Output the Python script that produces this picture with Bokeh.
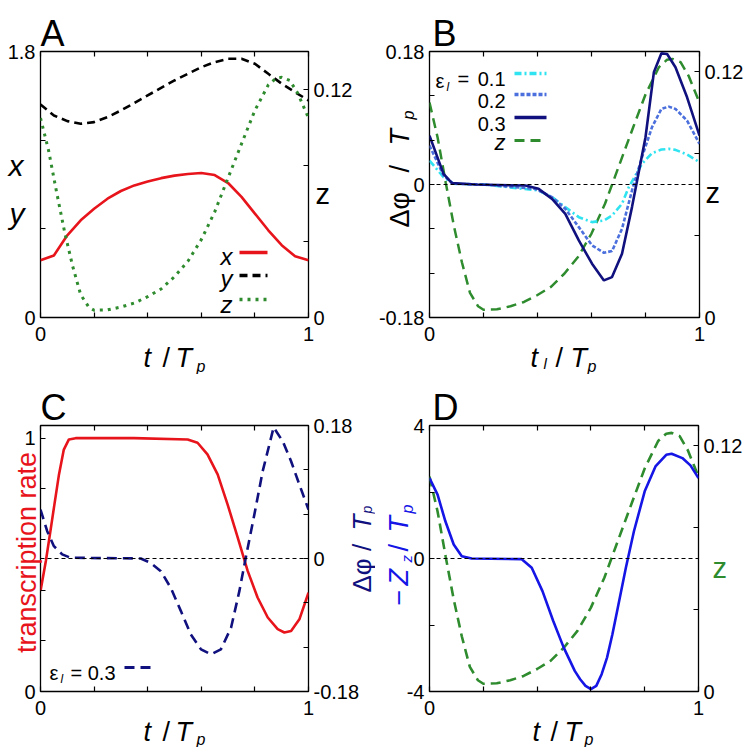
import math
from bokeh.plotting import figure
from bokeh.models import Range1d, LinearAxis, FixedTicker, Span
from bokeh.core.properties import value
from bokeh.layouts import row, column
from bokeh.embed import file_html
from bokeh.resources import INLINE

FONT = "Liberation Sans"
RED = "#e8141c"
GREEN = "#2e8b2e"
NAVY = "#10107e"
BLUE = "#1515e6"
CYAN = "#2fe3f0"
ROYAL = "#4b6fdc"

# ---------------- data ----------------
# Panel A: x, y (left axis) and z (right axis) over t / Tp
tA = [0, 0.05, 0.1, 0.15, 0.2, 0.25, 0.3, 0.35, 0.4, 0.45, 0.5, 0.55, 0.6, 0.65, 0.7, 0.75, 0.8, 0.85, 0.9, 0.95, 1.0]
xA = [0.387, 0.420, 0.556, 0.658, 0.736, 0.804, 0.856, 0.894, 0.921, 0.943, 0.960, 0.971, 0.978, 0.964, 0.910, 0.816, 0.703, 0.590, 0.489, 0.414, 0.387]
yA = [1.442, 1.367, 1.329, 1.311, 1.322, 1.356, 1.401, 1.451, 1.503, 1.554, 1.604, 1.649, 1.694, 1.728, 1.751, 1.751, 1.717, 1.649, 1.582, 1.525, 1.469]

# z (used in A, B, D)
tZ = [0, 0.03, 0.06, 0.09, 0.12, 0.15, 0.18, 0.2, 0.25, 0.3, 0.35, 0.4, 0.45, 0.5, 0.55, 0.6, 0.65, 0.7, 0.75, 0.8, 0.85, 0.88, 0.9, 0.93, 0.96, 1.0]
zV = [0.105, 0.088, 0.066, 0.045, 0.027, 0.012, 0.0055, 0.0038, 0.0040, 0.0055, 0.0076, 0.011, 0.015, 0.0215, 0.0296, 0.041, 0.0556, 0.0735, 0.0914, 0.109, 0.1224, 0.126, 0.1264, 0.1248, 0.118, 0.105]

# Panel B: phase shift for eps_l = 0.1, 0.2, 0.3
tB1 = [0, 0.052, 0.089, 0.2, 0.404, 0.454, 0.503, 0.553, 0.602, 0.646, 0.676, 0.713, 0.738, 0.787, 0.824, 0.859, 0.886, 0.911, 0.954, 1.0]
dB1 = [0.0324, 0.0099, 0.001, 0, -0.0081, -0.0171, -0.0306, -0.0442, -0.0509, -0.0487, -0.0419, -0.0261, -0.0036, 0.0279, 0.0424, 0.0473, 0.0482, 0.0469, 0.0405, 0.0302]
tB2 = [0, 0.052, 0.089, 0.2, 0.392, 0.454, 0.503, 0.553, 0.602, 0.646, 0.676, 0.713, 0.750, 0.787, 0.824, 0.859, 0.886, 0.911, 0.954, 1.0]
dB2 = [0.0527, 0.0122, 0.001, 0, -0.0059, -0.0171, -0.0329, -0.0577, -0.0824, -0.0924, -0.0901, -0.0600, -0.0081, 0.037, 0.0775, 0.1023, 0.1054, 0.1023, 0.0865, 0.055]
tB3 = [0, 0.052, 0.083, 0.169, 0.355, 0.404, 0.454, 0.503, 0.553, 0.602, 0.646, 0.676, 0.713, 0.750, 0.769, 0.800, 0.831, 0.859, 0.880, 0.911, 0.954, 1.0]
dB3 = [0.0662, 0.0144, 0.0018, 0, -0.0014, -0.0059, -0.0194, -0.0397, -0.0757, -0.1072, -0.1298, -0.1253, -0.0937, -0.0306, 0.0054, 0.064, 0.1518, 0.1775, 0.1766, 0.1586, 0.118, 0.0662]

# Panel C: transcription rate (left) and phase shift eps_l = 0.3 (right)
tC = [0, 0.02, 0.037, 0.05, 0.069, 0.087, 0.106, 0.131, 0.349, 0.549, 0.586, 0.623, 0.661, 0.698, 0.736, 0.773, 0.810, 0.848, 0.885, 0.910, 0.935, 0.966, 1.0]
rateC = [0.397, 0.515, 0.633, 0.725, 0.857, 0.955, 0.995, 1.0, 1.0, 0.995, 0.982, 0.936, 0.857, 0.739, 0.607, 0.476, 0.371, 0.292, 0.246, 0.233, 0.239, 0.285, 0.39]
tCd = [0, 0.025, 0.05, 0.081, 0.112, 0.374, 0.411, 0.449, 0.486, 0.524, 0.561, 0.599, 0.636, 0.673, 0.711, 0.742, 0.767, 0.798, 0.829, 0.870, 0.904, 0.935, 0.966, 1.0]
dC = [0.0662, 0.037, 0.0167, 0.0056, 0.001, 0, -0.0059, -0.0171, -0.0397, -0.0712, -0.1027, -0.123, -0.1298, -0.123, -0.0937, -0.0442, 0.0032, 0.0595, 0.118, 0.1775, 0.1586, 0.1316, 0.1, 0.0662]

# Panel D: -Z_z / Tp
tD = [0, 0.03, 0.059, 0.09, 0.12, 0.157, 0.343, 0.38, 0.42, 0.46, 0.499, 0.54, 0.56, 0.58, 0.6, 0.62, 0.64, 0.66, 0.68, 0.70, 0.73, 0.76, 0.80, 0.84, 0.88, 0.90, 0.94, 0.97, 1.0]
zzD = [2.42, 1.92, 1.12, 0.42, 0.07, 0, -0.02, -0.28, -0.98, -1.88, -2.68, -3.38, -3.63, -3.83, -3.93, -3.83, -3.48, -2.98, -2.28, -1.48, -0.28, 0.82, 2.02, 2.77, 3.12, 3.15, 3.02, 2.8, 2.42]

# ticks
xTicks = [0, 0.2, 0.4, 0.6, 0.8, 1.0]
xLabels = {0: "0", 1.0: "1"}

# ---------------- layout geometry (page pixels) ----------------
GEO = {
    "A": dict(fx=0, fy=0, fw=375, fh=374, left=40, top=51, w=268, h=266),
    "B": dict(fx=375, fy=0, fw=375, fh=374, left=429, top=51, w=270, h=266),
    "C": dict(fx=0, fy=374, fw=375, fh=373, left=40, top=425, w=268, h=266),
    "D": dict(fx=375, fy=374, fw=375, fh=373, left=429, top=425, w=269, h=266),
}


def to_data(g, yr, px, py):
    x = (px - g["left"]) / g["w"]
    y = yr[1] - (py - g["top"]) / g["h"] * (yr[1] - yr[0])
    return x, y


def mk_axis(ticks, labels, **kw):
    ov = {t: labels.get(t, "") for t in ticks}
    ax = LinearAxis(ticker=FixedTicker(ticks=ticks), major_label_overrides=ov, **kw)
    ax.axis_line_color = None
    ax.major_tick_line_color = "black"
    ax.major_tick_line_width = 1.2
    ax.major_tick_in = 5
    ax.major_tick_out = 0
    ax.minor_tick_line_color = None
    ax.major_label_text_font = FONT
    ax.major_label_text_font_size = "20px"
    ax.major_label_text_color = "black"
    ax.major_label_standoff = 5
    return ax


def make_fig(key, yr, yticks, ylabels, rname, rr, rticks, rlabels):
    g = GEO[key]
    p = figure(frame_width=g["w"], frame_height=g["h"],
               min_border_left=g["left"] - g["fx"],
               min_border_top=g["top"] - g["fy"],
               min_border_right=g["fx"] + g["fw"] - g["left"] - g["w"],
               min_border_bottom=g["fy"] + g["fh"] - g["top"] - g["h"],
               x_range=Range1d(0, 1), y_range=Range1d(*yr),
               x_axis_location=None, y_axis_location=None,
               output_backend="svg", toolbar_location=None)
    p.extra_y_ranges = {rname: Range1d(*rr)}
    p.xgrid.visible = False
    p.ygrid.visible = False
    p.outline_line_color = "black"
    p.outline_line_width = 1.3
    p.outline_line_alpha = 1.0
    p.background_fill_color = "white"
    p.border_fill_color = "white"
    bx = mk_axis(xTicks, xLabels)
    bx.major_label_standoff = 9
    p.add_layout(bx, "below")
    tx = mk_axis(xTicks, {})
    tx.major_label_text_font_size = "1px"
    tx.major_label_standoff = 0
    p.add_layout(tx, "above")
    p.add_layout(mk_axis(yticks, ylabels), "left")
    p.add_layout(mk_axis(rticks, rlabels, y_range_name=rname), "right")
    return p, g


def txt(p, g, yr, s, px, py, size, color="black", style="normal", align="left",
        baseline="alphabetic", angle=0.0):
    x, y = to_data(g, yr, px, py)
    p.text(x=[x], y=[y], text=[s], text_font=value(FONT),
           text_font_size=value(f"{size}px"), text_color=color,
           text_font_style=value(style), text_align=value(align),
           text_baseline=value(baseline), angle=angle, level="overlay")


def key_line(p, g, yr, px0, px1, py, **kw):
    x0, y = to_data(g, yr, px0, py)
    x1, _ = to_data(g, yr, px1, py)
    p.line([x0, x1], [y, y], **kw)


R90 = math.pi / 2

# ---------------- Panel A ----------------
yrA = (0, 1.8)
pA, gA = make_fig("A", yrA, [0, 0.6, 1.2, 1.8], {0: "0", 1.8: "1.8"},
                  "z", (0, 0.14), [0, 0.04, 0.08, 0.12], {0: "0", 0.12: "0.12"})
pA.line(tA, xA, line_color=RED, line_width=2.6)
pA.line(tA, yA, line_color="black", line_width=2.6, line_dash="8 5")
pA.line(tZ, zV, y_range_name="z", line_color=GREEN, line_width=3, line_dash="3 5")
txt(pA, gA, yrA, "A", 40, 33, 36)
txt(pA, gA, yrA, "x", 8, 165, 30, style="italic")
txt(pA, gA, yrA, "y", 9, 213, 30, style="italic")
txt(pA, gA, yrA, "z", 315, 193, 29)
txt(pA, gA, yrA, "t", 143, 357, 27, style="italic")
txt(pA, gA, yrA, "/", 162, 357, 27)
txt(pA, gA, yrA, "T", 175, 357, 27, style="italic")
txt(pA, gA, yrA, "p", 196, 366, 16, style="italic")
# legend
txt(pA, gA, yrA, "x", 232, 256, 24, style="italic", align="right")
txt(pA, gA, yrA, "y", 232, 278, 24, style="italic", align="right")
txt(pA, gA, yrA, "z", 232, 304, 24, style="italic", align="right")
key_line(pA, gA, yrA, 239, 267, 252, line_color=RED, line_width=3.5)
key_line(pA, gA, yrA, 239, 267, 275, line_color="black", line_width=3.5, line_dash="8 5")
key_line(pA, gA, yrA, 239, 267, 299, line_color=GREEN, line_width=3.5, line_dash="3 5")

# ---------------- Panel B ----------------
yrB = (-0.18, 0.18)
pB, gB = make_fig("B", yrB, [-0.18, -0.12, -0.06, 0, 0.06, 0.12, 0.18],
                  {-0.18: "-0.18", 0: "0", 0.18: "0.18"},
                  "z", (0, 0.13), [0, 0.04, 0.08, 0.12], {0: "0", 0.12: "0.12"})
pB.add_layout(Span(location=0, dimension="width", line_color="black", line_width=1, line_dash="4 3"))
pB.line(tZ, zV, y_range_name="z", line_color=GREEN, line_width=2.5, line_dash="10 6")
pB.line(tB1, dB1, line_color=CYAN, line_width=2.6, line_dash="7 3 2 3")
pB.line(tB2, dB2, line_color=ROYAL, line_width=2.6, line_dash="4 2")
pB.line(tB3, dB3, line_color=NAVY, line_width=2.6)
txt(pB, gB, yrB, "B", 432, 33, 36)
txt(pB, gB, yrB, "Δφ", 399, 227, 27, angle=R90)
txt(pB, gB, yrB, "/", 399, 172, 27, angle=R90)
txt(pB, gB, yrB, "T", 399, 145, 27, style="italic", angle=R90)
txt(pB, gB, yrB, "p", 408, 119, 16, style="italic", angle=R90)
txt(pB, gB, yrB, "z", 705, 192, 29)
txt(pB, gB, yrB, "t", 530, 357, 27, style="italic")
txt(pB, gB, yrB, "l", 543, 363, 15, style="italic")
txt(pB, gB, yrB, "/", 555, 357, 27)
txt(pB, gB, yrB, "T", 570, 357, 27, style="italic")
txt(pB, gB, yrB, "p", 587, 366, 16, style="italic")
# legend
txt(pB, gB, yrB, "ε", 435, 80, 20)
txt(pB, gB, yrB, "l", 446, 86, 12, style="italic")
txt(pB, gB, yrB, "=", 457, 78, 20)
txt(pB, gB, yrB, "0.1", 505, 78, 20, align="right")
txt(pB, gB, yrB, "0.2", 505, 100, 20, align="right")
txt(pB, gB, yrB, "0.3", 505, 123, 20, align="right")
txt(pB, gB, yrB, "z", 505, 142, 22, style="italic", align="right")
key_line(pB, gB, yrB, 514, 546, 73, line_color=CYAN, line_width=3.5, line_dash="7 3 2 3")
key_line(pB, gB, yrB, 514, 546, 94, line_color=ROYAL, line_width=3.5, line_dash="4 2")
key_line(pB, gB, yrB, 514, 546, 117, line_color=NAVY, line_width=3.5)
key_line(pB, gB, yrB, 514, 546, 140, line_color=GREEN, line_width=3, line_dash="10 6")

# ---------------- Panel C ----------------
yrC = (0, 1.05)
pC, gC = make_fig("C", yrC, [0, 0.2, 0.4, 0.6, 0.8, 1.0], {0: "0", 1.0: "1"},
                  "dphi", (-0.18, 0.18), [-0.18, -0.12, -0.06, 0, 0.06, 0.12, 0.18],
                  {-0.18: "-0.18", 0: "0", 0.18: "0.18"})
pC.add_layout(Span(location=0, dimension="width", y_range_name="dphi", line_color="black",
                   line_width=1, line_dash="4 3"))
pC.line(tC, rateC, line_color=RED, line_width=2.6)
pC.line(tCd, dC, y_range_name="dphi", line_color=NAVY, line_width=2.6, line_dash="10 6")
txt(pC, gC, yrC, "C", 40, 407, 36)
txt(pC, gC, yrC, "transcription rate", 26, 552, 27, color=RED, align="center", angle=R90)
txt(pC, gC, yrC, "Δφ /", 361, 592, 26, color=NAVY, angle=R90)
txt(pC, gC, yrC, "T", 361, 530, 26, color=NAVY, style="italic", angle=R90)
txt(pC, gC, yrC, "p", 366, 513, 14, color=NAVY, style="italic", angle=R90)
txt(pC, gC, yrC, "t", 143, 731, 27, style="italic")
txt(pC, gC, yrC, "/", 162, 731, 27)
txt(pC, gC, yrC, "T", 175, 731, 27, style="italic")
txt(pC, gC, yrC, "p", 196, 739, 16, style="italic")
# legend
txt(pC, gC, yrC, "ε", 49, 672, 20)
txt(pC, gC, yrC, "l", 60, 678, 12, style="italic")
txt(pC, gC, yrC, "= 0.3", 115, 672, 20, align="right")
key_line(pC, gC, yrC, 124, 153, 667, line_color=NAVY, line_width=3, line_dash="10 6")

# ---------------- Panel D ----------------
yrD = (-4, 4)
pD, gD = make_fig("D", yrD, [-4, -2, 0, 2, 4], {-4: "-4", 0: "0", 4: "4"},
                  "z", (0, 0.13), [0, 0.04, 0.08, 0.12], {0: "0", 0.12: "0.12"})
pD.add_layout(Span(location=0, dimension="width", line_color="black", line_width=1, line_dash="4 3"))
pD.line(tZ, zV, y_range_name="z", line_color=GREEN, line_width=2.6, line_dash="10 6")
pD.line(tD, zzD, line_color=BLUE, line_width=2.6)
txt(pD, gD, yrD, "D", 432, 407, 36)
txt(pD, gD, yrD, "−", 398, 605, 27, color=BLUE, angle=R90)
txt(pD, gD, yrD, "Z", 398, 585, 27, color=BLUE, style="italic", angle=R90)
txt(pD, gD, yrD, "z", 406, 562, 15, color=BLUE, style="italic", angle=R90)
txt(pD, gD, yrD, "/", 398, 551, 27, color=BLUE, angle=R90)
txt(pD, gD, yrD, "T", 398, 532, 27, color=BLUE, style="italic", angle=R90)
txt(pD, gD, yrD, "p", 407, 513, 16, color=BLUE, style="italic", angle=R90)
txt(pD, gD, yrD, "z", 712, 567, 29, color=GREEN)
txt(pD, gD, yrD, "t", 532, 731, 27, style="italic")
txt(pD, gD, yrD, "/", 550, 731, 27)
txt(pD, gD, yrD, "T", 564, 731, 27, style="italic")
txt(pD, gD, yrD, "p", 584, 739, 16, style="italic")

layout = column(row(pA, pB, spacing=0), row(pC, pD, spacing=0), spacing=0)
open("out.html", "w").write(file_html(layout, INLINE))
